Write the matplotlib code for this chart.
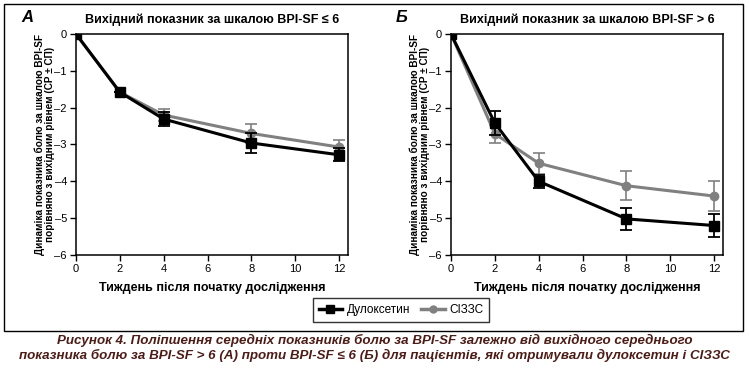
import matplotlib
matplotlib.use("Agg")
import matplotlib.pyplot as plt
from matplotlib.patches import Rectangle
from matplotlib.lines import Line2D

plt.rcParams['font.family'] = ['Liberation Sans', 'DejaVu Sans']

weeks = [0, 2, 4, 8, 12]

# панель А: вихідний BPI-SF <= 6
dulox_a = [0, -1.58, -2.31, -2.96, -3.28]
dulox_a_err = [0, 0, 0.19, 0.26, 0.18]
ssri_a = [0, -1.58, -2.20, -2.70, -3.07]
ssri_a_err = [0, 0, 0.16, 0.25, 0.18]

# панель Б: вихідний BPI-SF > 6
dulox_b = [0, -2.42, -4.00, -5.02, -5.20]
dulox_b_err = [0, 0.32, 0.18, 0.30, 0.30]
ssri_b = [0, -2.71, -3.51, -4.12, -4.40]
ssri_b_err = [0, 0.24, 0.29, 0.40, 0.41]

titles = ['Вихідний показник за шкалою BPI-SF ≤ 6',
          'Вихідний показник за шкалою BPI-SF > 6']
letters = ['А', 'Б']
ylabel = 'Динаміка показника болю за шкалою BPI-SF\nпорівняно з вихідним рівнем (СР ± СП)'
xlabel = 'Тиждень після початку дослідження'
names = ['Дулоксетин', 'СІЗЗС']
caption = ('Рисунок 4. Поліпшення середніх показників болю за BPI-SF залежно від вихідного середнього\n'
           'показника болю за BPI-SF > 6 (А) проти BPI-SF ≤ 6 (Б) для пацієнтів, які отримували дулоксетин і СІЗЗС')

gray = '#808080'
W, H = 749, 374
fig = plt.figure(figsize=(W / 100, H / 100), dpi=100)

# рамка навколо графіків
fig.patches.append(Rectangle((4 / W, 1 - 331 / H), 739 / W, 327 / H, transform=fig.transFigure,
                             fill=False, edgecolor='black', linewidth=1.0))

panels = [
    (76, dulox_a, dulox_a_err, ssri_a, ssri_a_err),
    (451, dulox_b, dulox_b_err, ssri_b, ssri_b_err),
]
for i, (left, d, de, s, se) in enumerate(panels):
    ax = fig.add_axes([left / W, 1 - 255 / H, 272 / W, 221 / H])
    ax.errorbar(weeks, s, yerr=se, color=gray, marker='o', markersize=6, linewidth=2.2,
                elinewidth=1.2, capsize=4, capthick=1.2, zorder=2)
    ax.errorbar(weeks, d, yerr=de, color='black', marker='s', markersize=7, linewidth=2.2,
                elinewidth=1.3, capsize=4, capthick=1.3, zorder=3)
    ax.set_xlim(0, 12.4)
    ax.set_ylim(-6, 0)
    ax.set_xticks(range(0, 13, 2))
    ax.set_yticks(range(-6, 1))
    ax.set_yticklabels(['–6', '–5', '–4', '–3', '–2', '–1', '0'])
    ax.tick_params(labelsize=8, length=4, width=1, pad=2.5)
    for sp in ax.spines.values():
        sp.set_linewidth(1.1)
        sp.set_clip_on(False)
    ax.set_title(titles[i], fontsize=9, fontweight='bold', pad=8)
    ax.set_xlabel(xlabel, fontsize=9, fontweight='bold', labelpad=6)
    ax.set_ylabel(ylabel, fontsize=7.2, fontweight='bold', linespacing=1.05)
    ax.yaxis.set_label_coords(-21 / 272, 0.5)
    fig.text((left - 49) / W, 1 - 17 / H, letters[i], fontsize=12, fontweight='bold', style='italic',
             ha='center', va='center')

handles = [Line2D([], [], color='black', marker='s', markersize=6, linewidth=2.5),
           Line2D([], [], color=gray, marker='o', markersize=5, linewidth=2.5)]
leg = fig.legend(handles, names, loc='center', bbox_to_anchor=(401 / W, 1 - 310 / H), ncol=2,
                 fontsize=8.5, frameon=True, fancybox=False, edgecolor='black', handlelength=2.0,
                 handletextpad=0.4, columnspacing=0.9, borderpad=0.5)
leg.get_frame().set_linewidth(1.0)

fig.text(0.5, 1 - 348 / H, caption, fontsize=9.6, fontweight='bold', style='italic', color='#4b1d18',
         ha='center', va='center', linespacing=1.25)

fig.savefig('out.png', dpi=100)
